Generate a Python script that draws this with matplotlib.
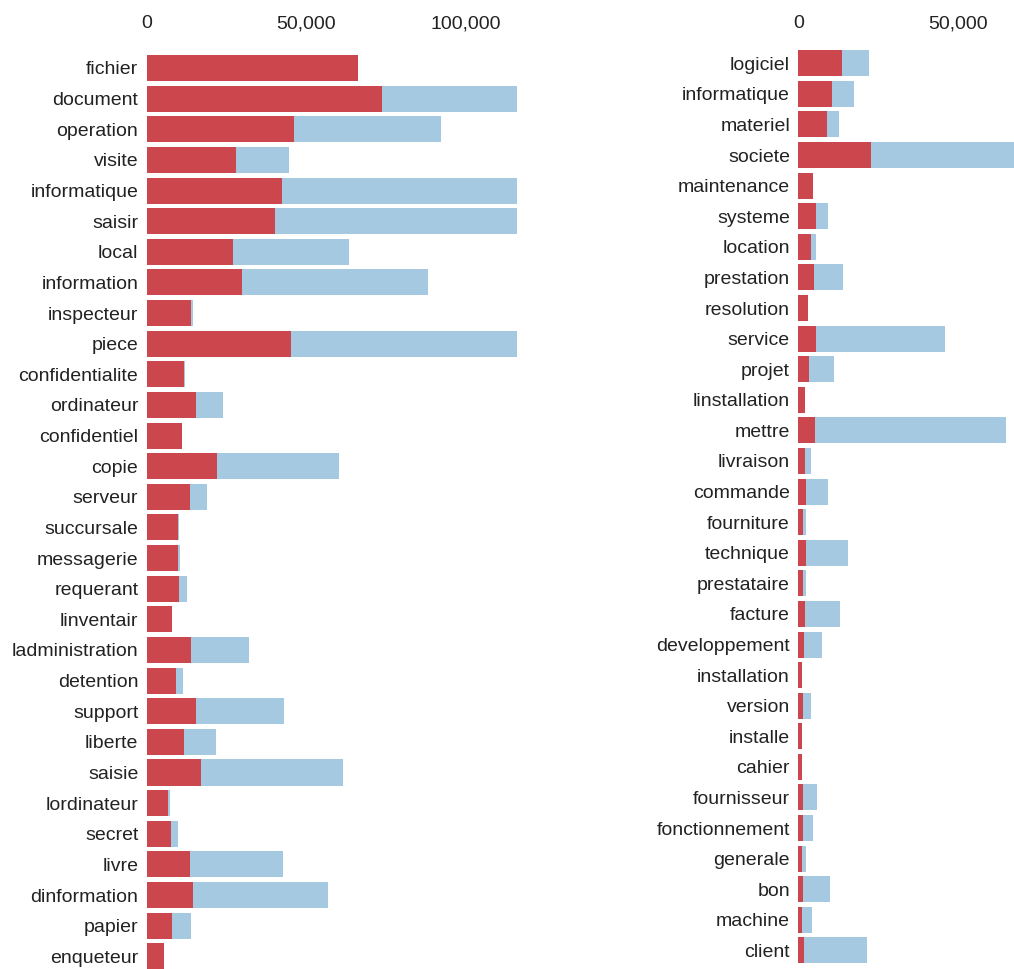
import matplotlib
matplotlib.use("Agg")
import matplotlib.pyplot as plt
from matplotlib.ticker import FuncFormatter

plt.rcParams['font.family'] = ['Liberation Sans', 'DejaVu Sans']

# left panel
terms_a = ["fichier", "document", "operation", "visite", "informatique", "saisir",
           "local", "information", "inspecteur", "piece", "confidentialite",
           "ordinateur", "confidentiel", "copie", "serveur", "succursale",
           "messagerie", "requerant", "linventair", "ladministration", "detention",
           "support", "liberte", "saisie", "lordinateur", "secret", "livre",
           "dinformation", "papier", "enqueteur"]
topic_a = [66150, 73860, 46180, 28000, 42320, 40220, 27150, 29970, 13790, 45240,
           11600, 15360, 11070, 22140, 13580, 9920, 9720, 10230, 7940, 13890,
           9090, 15360, 11600, 17120, 6580, 7520, 13670, 14610, 8030, 5520]
total_a = [66150, 130000, 92270, 44610, 128000, 125000, 63420, 88290, 14420, 122000,
           11910, 23830, 11180, 60290, 19000, 10050, 10540, 12630, 7940, 32070,
           11480, 43140, 21730, 61450, 7400, 9720, 42730, 56740, 13790, 5520]

# right panel
terms_b = ["logiciel", "informatique", "materiel", "societe", "maintenance", "systeme",
           "location", "prestation", "resolution", "service", "projet", "linstallation",
           "mettre", "livraison", "commande", "fourniture", "technique", "prestataire",
           "facture", "developpement", "installation", "version", "installe", "cahier",
           "fournisseur", "fonctionnement", "generale", "bon", "machine", "client"]
topic_b = [13600, 10660, 9090, 22790, 4610, 5640, 4080, 5020, 2950, 5640,
           3350, 2000, 5240, 2100, 2510, 1570, 2510, 1380, 2190, 1880,
           1070, 1470, 1070, 1070, 1470, 1380, 1070, 1570, 1160, 1880]
total_b = [22070, 17560, 12670, 72000, 4610, 9220, 5450, 14110, 2950, 46080,
           11190, 2000, 65110, 3980, 9410, 2410, 15490, 2410, 13070, 7340,
           1070, 3980, 1070, 1070, 5860, 4700, 2510, 9940, 4290, 21630]

W, H = 1014, 969
BLUE = "#a5c9e1"
RED = "#cc474d"
TXT = "#222222"

fig = plt.figure(figsize=(W / 100, H / 100), dpi=100)


def panel(x0, x1, row0, step, terms, topic, total, xmax, ticks):
    ax = fig.add_axes([x0 / W, 0, (x1 - x0) / W, (H - 40) / H])
    y = list(range(len(terms)))
    ax.barh(y, total, height=0.85, color=BLUE, linewidth=0)
    ax.barh(y, topic, height=0.85, color=RED, linewidth=0)
    ax.set_xlim(0, xmax)
    ax.set_ylim(len(terms) - 1 + (H - (row0 + step * (len(terms) - 1))) / step,
                -(row0 - 40) / step)
    ax.set_yticks(y)
    ax.set_yticklabels(terms, fontsize=14, color=TXT)
    ax.set_xticks(ticks)
    ax.xaxis.set_major_formatter(FuncFormatter(lambda v, p: f"{int(v):,}"))
    ax.xaxis.tick_top()
    ax.tick_params(axis="x", length=0, pad=5.5, labelsize=14, colors=TXT)
    ax.tick_params(axis="y", length=0, pad=6)
    for s in ax.spines.values():
        s.set_visible(False)
    return ax


panel(146.7, 517, 68, 30.63, terms_a, topic_a, total_a, 116090, [0, 50000, 100000])
panel(798.3, 1014, 63.3, 30.59, terms_b, topic_b, total_b, 67620, [0, 50000])

fig.savefig("out.png", dpi=100)
